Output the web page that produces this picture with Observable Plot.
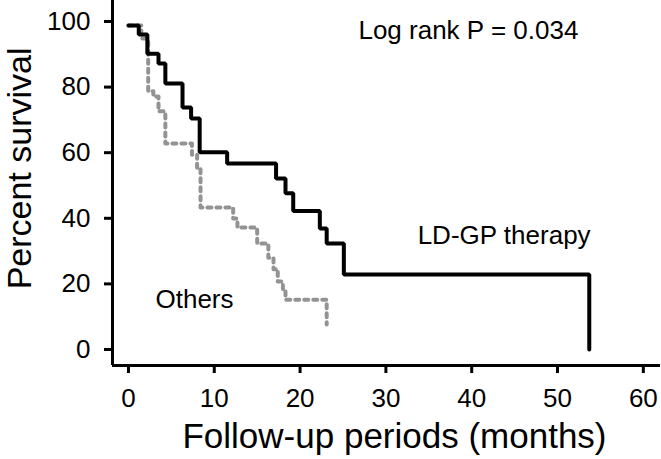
<!DOCTYPE html>
<html>
<head>
<meta charset="utf-8">
<script src="https://cdn.jsdelivr.net/npm/d3@7"></script>
<script src="https://cdn.jsdelivr.net/npm/@observablehq/plot@0.6"></script>
<style>
  html, body { margin: 0; padding: 0; background: #fff; }
</style>
</head>
<body>
<div id="chart"></div>
<script>
// Tick labels
const xTicks = [0, 10, 20, 30, 40, 50, 60];
const yTicks = [0, 20, 40, 60, 80, 100];

// LD-GP therapy group (step-after: value holds from its time to the next)
const ldgpTime = [0, 1.2, 2.2, 3.5, 4.3, 6.3, 7.3, 8.3, 11.5, 17.2, 18.3, 19.2, 22.3, 23.1, 25.1, 53.7];
const ldgpSurv = [98.8, 96.0, 90.2, 87.2, 81.1, 73.8, 70.4, 60.1, 56.7, 52.1, 47.6, 42.2, 36.9, 32.3, 22.9, 0];

// Others group
const othersTime = [0, 1.5, 2.3, 2.9, 3.5, 4.3, 7.4, 8.0, 8.4, 12.2, 12.7, 15.0, 16.3, 16.9, 17.4, 18.0, 18.3, 23.1];
const othersSurv = [98.8, 94.8, 78.7, 77.1, 72.6, 62.8, 59.4, 55.2, 43.3, 39.9, 37.2, 32.3, 28.0, 24.5, 20.7, 17.7, 15.2, 7.6];

// Annotation texts and their anchor points (data units)
const noteText = ["Log rank P = 0.034", "LD-GP therapy", "Others"];
const noteX = [26.8, 33.7, 3.15];
const noteY = [94.8, 32.3, 12.8];

const xTitle = "Follow-up periods (months)";
const yTitle = "Percent survival";
// y title anchor (data units, left of the frame)
const yTitleAt = [-11.3, 55.2];

const xDomain = [-1.86, 62];
const yDomain = [-4.88, 106.4];

const ldgp = ldgpTime.map((t, i) => ({t, s: ldgpSurv[i]}));
const others = othersTime.map((t, i) => ({t, s: othersSurv[i]}));
const notes = noteText.map((text, i) => ({text, x: noteX[i], y: noteY[i]}));

const chart = Plot.plot({
  width: 661,
  height: 459,
  marginLeft: 112,
  marginRight: 1,
  marginTop: 0,
  marginBottom: 94,
  style: {fontFamily: "'Liberation Sans', Arial, Helvetica, sans-serif", color: "black", background: "white", overflow: "visible"},
  x: {domain: xDomain},
  y: {domain: yDomain},
  marks: [
    Plot.axisX(xTicks, {tickSize: 8, tickPadding: 15, fontSize: 26, strokeWidth: 3, label: null}),
    Plot.axisY(yTicks, {tickSize: 8, tickPadding: 14, fontSize: 26, strokeWidth: 3, label: null}),
    Plot.ruleX([xDomain[0]], {strokeWidth: 3, stroke: "black"}),
    Plot.ruleY([yDomain[0]], {strokeWidth: 3, stroke: "black"}),
    Plot.line(others, {x: "t", y: "s", curve: "step-after", stroke: "#939393", strokeWidth: 4, strokeDasharray: "4,5"}),
    Plot.line(ldgp, {x: "t", y: "s", curve: "step-after", stroke: "black", strokeWidth: 4, strokeLinejoin: "miter"}),
    Plot.text(notes, {x: "x", y: "y", text: "text", textAnchor: "start", lineAnchor: "bottom", fontSize: 26, fill: "black"}),
    Plot.text([xTitle], {frameAnchor: "bottom", dx: 8, dy: 82, lineAnchor: "bottom", fontSize: 35, fill: "black"}),
    Plot.text([yTitle], {x: () => yTitleAt[0], y: () => yTitleAt[1], rotate: -90, textAnchor: "middle", lineAnchor: "bottom", fontSize: 34, fill: "black"})
  ]
});
document.getElementById("chart").appendChild(chart);
</script>
</body>
</html>
